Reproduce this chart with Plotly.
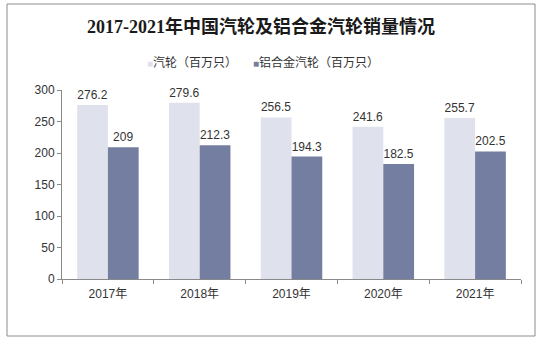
import plotly.graph_objects as go

years = ["2017年", "2018年", "2019年", "2020年", "2021年"]
steel_wheels = [276.2, 279.6, 256.5, 241.6, 255.7]
alloy_wheels = [209, 212.3, 194.3, 182.5, 202.5]
series_names = ["汽轮（百万只）", "铝合金汽轮（百万只）"]
series_colors = ["#DFE2EC", "#737EA0"]

W, H = 544, 342
ml, mr, mt, mb = 62, 23, 90, 63
pw, ph = W - ml - mr, H - mt - mb

font_main = "Arial, Liberation Sans, Noto Sans CJK SC"

fig = go.Figure()
for name, vals, color in zip(series_names, [steel_wheels, alloy_wheels], series_colors):
    fig.add_trace(go.Bar(
        x=years, y=vals, name=name,
        marker=dict(color=color, line=dict(width=0)),
        text=[f"{v:g}" for v in vals], textposition="outside",
        textfont=dict(size=12, color="#333333"), cliponaxis=False,
        showlegend=False,
    ))

# compact legend: small square swatch followed by the series name
legend_x = [145, 251]
for name, color, x in zip(series_names, series_colors, legend_x):
    fig.add_annotation(
        xref="paper", yref="paper",
        x=(x - ml) / pw, y=(H - mb - 62) / ph,
        xanchor="left", yanchor="middle", showarrow=False,
        text=f'<span style="color:{color};font-size:10px">■</span>{name}',
        font=dict(family=font_main, size=12, color="#333333"),
    )

# outer frame around the whole chart
fig.add_shape(
    type="rect", xref="paper", yref="paper",
    x0=(7 - ml) / pw, x1=(535 - ml) / pw,
    y0=(H - mb - 336) / ph, y1=(H - mb - 4) / ph,
    line=dict(color="#8C8C8C", width=1), fillcolor="rgba(0,0,0,0)", layer="below",
)

fig.update_layout(
    width=W, height=H,
    margin=dict(l=ml, r=mr, t=mt, b=mb),
    paper_bgcolor="white", plot_bgcolor="white",
    barmode="group", bargap=0.33, bargroupgap=0,
    showlegend=False,
    title=dict(
        text="<b>2017-2021年中国汽轮及铝合金汽轮销量情况</b>",
        x=261 / W, xref="container", xanchor="center",
        y=1 - 27 / H, yanchor="middle",
        font=dict(family="Liberation Serif, Noto Sans CJK SC", size=18, color="#1a1a1a"),
    ),
    font=dict(family=font_main, size=12, color="#333333"),
    xaxis=dict(
        showline=True, linecolor="#898989", linewidth=1,
        ticks="outside", tickson="boundaries", ticklen=4, tickcolor="#898989",
        tickfont=dict(size=12, color="#333333"), showgrid=False,
        ticklabelstandoff=4,
    ),
    yaxis=dict(
        range=[0, 300], dtick=50, showline=True, linecolor="#898989", linewidth=1,
        ticks="outside", ticklen=4, tickcolor="#898989", showgrid=False,
        zeroline=False, tickfont=dict(size=12, color="#333333"),
    ),
)

fig.write_html("out.html")
